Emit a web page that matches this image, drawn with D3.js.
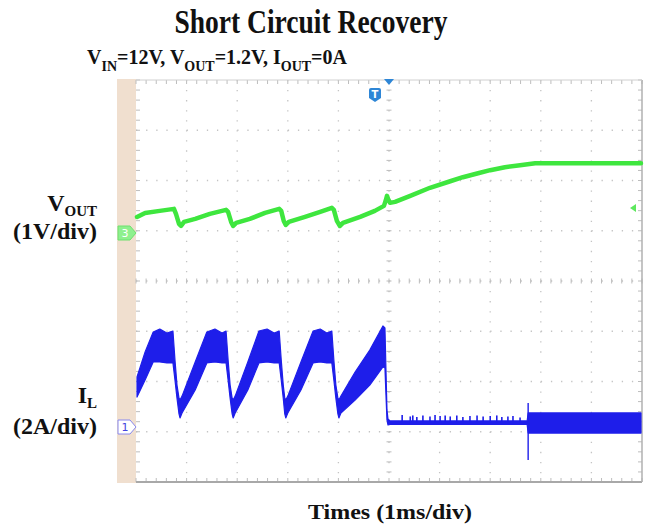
<!DOCTYPE html>
<html><head><meta charset="utf-8">
<script src="https://cdn.jsdelivr.net/npm/d3@7"></script>
<style>
body{margin:0;background:#fff}
svg{display:block}
text{font-family:"Liberation Serif","Times New Roman",serif;font-weight:bold;fill:#111}
</style>
</head><body>
<svg id="c" width="651" height="531"></svg>
<script>
// ---------------- data (time in ms, V_OUT in V, I_L in A) ----------------
const xDivs = [-5,-4,-3,-2,-1,0,1,2,3,4,5];
const yDivs = [-4,-3,-2,-1,0,1,2,3,4];

// V_OUT trace (channel 3, 1V/div)
const vTime = [-4.98,-4.82,-4.53,-4.25,-4.21,-4.15,-4.11,-4.05,-3.83,-3.54,-3.22,-3.18,-3.12,-3.08,-3.02,-2.75,-2.45,-2.17,-2.13,-2.08,-2.04,-1.98,-1.66,-1.36,-1.13,-1.09,-1.03,-0.97,-0.91,-0.57,-0.28,-0.10,-0.06,-0.04,-0.02,0.02,0.12,0.42,0.81,1.21,1.46,1.76,2.00,2.29,2.59,2.89,3.38,4.17,4.98];
const vOut  = [0.32,0.40,0.44,0.48,0.38,0.18,0.14,0.22,0.28,0.38,0.46,0.42,0.22,0.14,0.20,0.28,0.40,0.48,0.44,0.24,0.16,0.22,0.32,0.42,0.50,0.46,0.24,0.14,0.20,0.32,0.44,0.54,0.66,0.74,0.68,0.60,0.62,0.74,0.90,1.03,1.11,1.19,1.25,1.31,1.35,1.39,1.39,1.39,1.39];

// I_L envelope (channel 1, 2A/div): upper and lower edge of the switching band
const iTime = [-4.98,-4.82,-4.66,-4.53,-4.39,-4.27,-4.23,-4.19,-4.15,-4.13,-4.09,-3.83,-3.60,-3.44,-3.30,-3.22,-3.18,-3.14,-3.10,-3.08,-3.04,-2.79,-2.57,-2.41,-2.27,-2.17,-2.13,-2.09,-2.06,-2.04,-2.00,-1.74,-1.50,-1.36,-1.23,-1.13,-1.09,-1.05,-1.01,-0.99,-0.95,-0.67,-0.38,-0.12,-0.08,-0.06,-0.04,-0.02,0.02,2.73,2.75,4.98];
const iHi   = [1.99,2.99,3.78,3.90,3.74,3.82,2.67,1.67,1.15,1.07,1.23,2.59,3.78,3.90,3.74,3.82,2.67,1.67,1.15,1.07,1.23,2.59,3.82,3.90,3.74,3.82,2.67,1.67,1.15,1.07,1.23,2.59,3.82,3.90,3.74,3.82,2.67,1.67,1.15,1.07,1.23,2.19,3.06,4.02,3.94,2.27,0.68,0.32,0.24,0.24,0.56,0.56];
const iLo   = [1.19,1.87,2.59,2.59,2.55,2.55,1.87,1.15,0.52,0.36,0.56,1.47,2.55,2.59,2.55,2.55,1.87,1.15,0.52,0.36,0.56,1.47,2.55,2.59,2.55,2.55,1.87,1.15,0.52,0.36,0.56,1.47,2.55,2.59,2.55,2.55,1.87,1.15,0.52,0.36,0.56,1.07,1.67,2.39,2.35,1.27,0.28,0.08,0.10,0.10,-0.24,-0.24];

// small upward spikes on I_L while in recovery
const spikeTime = [0.26,0.42,0.47,0.55,0.67,0.81,0.91,1.01,1.11,1.21,1.34,1.46,1.60,1.74,1.86,2.00,2.13,2.23,2.35,2.45,2.59];
const spikeHigh = [0.48,0.42,0.46,0.40,0.46,0.42,0.48,0.44,0.46,0.42,0.46,0.40,0.44,0.46,0.42,0.44,0.46,0.40,0.42,0.44,0.38];
// single glitch where the switching band starts
const glitchTime = [2.75];
const glitchHi = [0.96];
const glitchLo = [-1.31];

// ---------------- drawing ----------------
const svg = d3.select("#c");
const L = 136, R = 642, T = 80, B = 482;
const x = d3.scaleLinear().domain([-5,5]).range([L,R]);
const yDiv = d3.scaleLinear().domain([-4,4]).range([B,T]);
const vGround = 233, iGround = 427, pxDiv = (B-T)/8;
const yV = d3.scaleLinear().domain([0,1]).range([vGround, vGround - pxDiv]);
const yI = d3.scaleLinear().domain([0,2]).range([iGround, iGround - pxDiv]);

// beige side strip
svg.append("rect").attr("x",117).attr("y",79).attr("width",L-117).attr("height",B-79+1).attr("fill","#f0dfcf");

// plot background
svg.append("rect").attr("x",L).attr("y",T).attr("width",R-L).attr("height",B-T).attr("fill","#fff");

const grid = svg.append("g");
const minorX = (R-L)/50, minorY = (B-T)/40;
// dotted division lines
grid.selectAll("line.vx").data(xDivs.slice(1,-1)).join("line")
  .attr("x1",d=>x(d)).attr("x2",d=>x(d)).attr("y1",T).attr("y2",B)
  .attr("stroke","#c4c4c4").attr("stroke-width",1.3)
  .attr("stroke-dasharray",`1.3 ${minorY-1.3}`);
grid.selectAll("line.hy").data(yDivs.slice(1,-1)).join("line")
  .attr("y1",d=>yDiv(d)).attr("y2",d=>yDiv(d)).attr("x1",L).attr("x2",R)
  .attr("stroke","#c4c4c4").attr("stroke-width",1.3)
  .attr("stroke-dasharray",`1.3 ${minorX-1.3}`);

// minor ticks on center axes and borders
const xm = d3.range(0,51).map(i=>L+i*minorX);
const ym = d3.range(0,41).map(i=>T+i*minorY);
const tk = svg.append("g").attr("stroke","#bdbdbd").attr("stroke-width",1);
xm.forEach(px=>{
  tk.append("line").attr("x1",px).attr("x2",px).attr("y1",yDiv(0)-2.5).attr("y2",yDiv(0)+2.5);
  tk.append("line").attr("x1",px).attr("x2",px).attr("y1",T).attr("y2",T+4);
  tk.append("line").attr("x1",px).attr("x2",px).attr("y1",B-4).attr("y2",B);
});
ym.forEach(py=>{
  tk.append("line").attr("y1",py).attr("y2",py).attr("x1",x(0)-2.5).attr("x2",x(0)+2.5);
  tk.append("line").attr("y1",py).attr("y2",py).attr("x1",L).attr("x2",L+4);
  tk.append("line").attr("y1",py).attr("y2",py).attr("x1",R-4).attr("x2",R);
});
// frame
svg.append("line").attr("x1",L).attr("x2",R).attr("y1",B).attr("y2",B).attr("stroke","#a8a8a8").attr("stroke-width",2);
svg.append("line").attr("x1",R).attr("x2",R).attr("y1",T).attr("y2",B).attr("stroke","#b0b0b0").attr("stroke-width",1.5);
svg.append("line").attr("x1",L).attr("x2",R).attr("y1",T).attr("y2",T).attr("stroke","#d0d0d0").attr("stroke-width",1);

// I_L band
const blue = "#1e1eea";
const iData = iTime.map((t,i)=>({t,hi:iHi[i],lo:iLo[i]}));
svg.append("path").datum(iData)
  .attr("d",d3.area().x(d=>x(d.t)).y0(d=>yI(d.lo)).y1(d=>yI(d.hi)))
  .attr("fill",blue).attr("stroke",blue).attr("stroke-width",1.2).attr("stroke-linejoin","round");
svg.append("g").selectAll("line").data(spikeTime.map((t,i)=>({t,h:spikeHigh[i]}))).join("line")
  .attr("x1",d=>x(d.t)).attr("x2",d=>x(d.t)).attr("y1",yI(0.2)).attr("y2",d=>yI(d.h))
  .attr("stroke",blue).attr("stroke-width",1.6);
svg.append("g").selectAll("line").data(glitchTime.map((t,i)=>({t,hi:glitchHi[i],lo:glitchLo[i]}))).join("line")
  .attr("x1",d=>x(d.t)).attr("x2",d=>x(d.t)).attr("y1",d=>yI(d.lo)).attr("y2",d=>yI(d.hi))
  .attr("stroke",blue).attr("stroke-width",1.4);

// V_OUT trace
const vData = vTime.map((t,i)=>({t,v:vOut[i]}));
svg.append("path").datum(vData)
  .attr("d",d3.line().x(d=>x(d.t)).y(d=>yV(d.v)))
  .attr("fill","none").attr("stroke","#3ee63e").attr("stroke-width",4.5).attr("stroke-linejoin","round").attr("stroke-linecap","round");

// channel markers
const tag = (y,fill,stroke,txt,tcol)=>{
  const g = svg.append("g");
  g.append("path").attr("d",`M118,${y-7} L130,${y-7} L136,${y} L130,${y+7} L118,${y+7} Z`)
    .attr("fill",fill).attr("stroke",stroke).attr("stroke-width",1);
  g.append("text").attr("x",125).attr("y",y+4).attr("text-anchor","middle")
    .style("font-family","'DejaVu Sans',sans-serif").style("font-weight","normal").style("font-size","11px").style("fill",tcol).text(txt);
};
tag(vGround,"#8ef08e","#6ee06e","3","#fff");
tag(iGround,"#ffffff","#8888ee","1","#4444dd");

// trigger marker
svg.append("path").attr("d",`M${x(0)-5},${T-1} L${x(0)+5},${T-1} L${x(0)},${T+5} Z`).attr("fill","#2e86d6");
svg.append("path").attr("d","M369,90 Q369,88 371,88 L379,88 Q381,88 381,90 L381,98 L375,102 L369,98 Z").attr("fill","#2e86d6");
svg.append("text").attr("x",375).attr("y",98).attr("text-anchor","middle")
  .style("font-family","'DejaVu Sans',sans-serif").style("font-size","10px").style("fill","#fff").text("T");
// right-side trigger level marker
svg.append("path").attr("d",`M630,208 L636,204 L636,212 Z`).attr("fill","#5ee85e");

// ---------------- text ----------------
svg.append("text").attr("x",311).attr("y",33).attr("text-anchor","middle")
  .attr("textLength",273).attr("lengthAdjust","spacingAndGlyphs")
  .style("font-size","34px").text("Short Circuit Recovery");

const sub = svg.append("text").attr("x",87).attr("y",64).style("font-size","20px");
const parts = [["V",0],["IN",1],["=12V, V",0],["OUT",1],["=1.2V, I",0],["OUT",1],["=0A",0]];
let prev = 0;
parts.forEach(([s,isSub])=>{
  const dy = isSub ? 7 : (prev ? -7 : 0);
  sub.append("tspan").attr("dy",dy).style("font-size",isSub?"14px":"20px").text(s);
  prev = isSub;
});

function label(y1, main, subs, y2, scale){
  const t = svg.append("text").attr("x",97).attr("y",y1).attr("text-anchor","end").style("font-size","24px");
  t.append("tspan").text(main);
  t.append("tspan").attr("dy",5).style("font-size","15px").text(subs);
  svg.append("text").attr("x",97).attr("y",y2).attr("text-anchor","end").style("font-size","24px").text(scale);
}
label(211,"V","OUT",239,"(1V/div)");
label(403,"I","L",434,"(2A/div)");

svg.append("text").attr("x",390).attr("y",519).attr("text-anchor","middle")
  .attr("textLength",164).attr("lengthAdjust","spacingAndGlyphs")
  .style("font-size","22px").text("Times (1ms/div)");
</script>
</body></html>
